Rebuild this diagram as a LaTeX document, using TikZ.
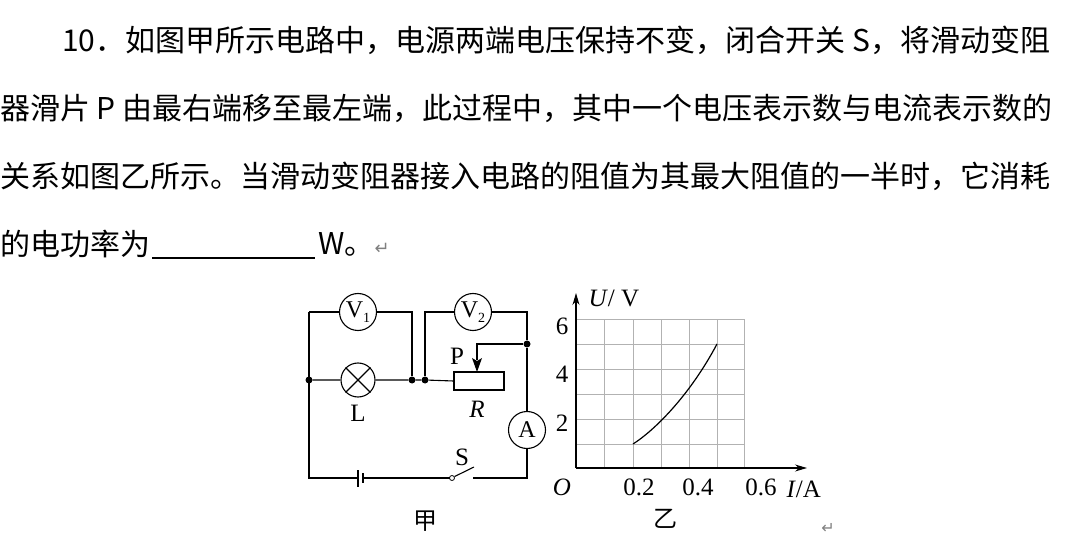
\documentclass[tikz,border=0pt]{standalone}
\usepackage{fontspec}
\usetikzlibrary{arrows.meta}
\setmainfont{Liberation Serif}
\newfontfamily\cjk{Noto Sans CJK SC}
\newfontfamily\djsym{DejaVu Sans}
\begin{document}
\begin{tikzpicture}[x=1pt,y=-1pt,
 wire/.style={line width=1.1pt},
 meter/.style={circle,draw,line width=1.1pt,fill=white,minimum size=37pt,inner sep=0pt,font=\fontsize{24}{24}\selectfont},
 dot/.style={circle,fill,inner sep=0pt,minimum size=7pt},
 lab/.style={font=\fontsize{25}{25}\selectfont},
 txt/.style={anchor=west,inner sep=0pt,font=\cjk\fontsize{30}{30}\selectfont},
 grid/.style={draw=gray!60,line width=0.8pt}]
\useasboundingbox (0,0) rectangle (1080,540);
% text
\node[txt] (t1) at (62,40) {10．如图甲所示电路中，电源两端电压保持不变，闭合开关 S，将滑动变阻};
\node[txt] (t2) at (0,108) {器滑片 P 由最右端移至最左端，此过程中，其中一个电压表示数与电流表示数的};
\node[txt] (t3) at (0,176) {关系如图乙所示。当滑动变阻器接入电路的阻值为其最大阻值的一半时，它消耗};
\node[txt] (t4) at (0,244) {的电功率为};
\coordinate (u1) at (152,258); \coordinate (u2) at (315,258);
\draw[line width=1.5pt] (u1) -- (u2);
\node[txt] (t5) at (318,244) {W。{\djsym\color{gray}\fontsize{18}{18}\selectfont ↵}};
% circuit
\coordinate (TL) at (309,312); \coordinate (BL) at (309,478);
\coordinate (BR) at (527,478); \coordinate (TR) at (527,312);
\node[dot] (jl) at (309,380) {}; \node[dot] (j1) at (412,380) {};
\node[dot] (j2) at (425,380) {}; \node[dot] (jr) at (527,344) {};
\node[circle,draw,line width=1.1pt,minimum size=34pt,inner sep=0pt,fill=white] (L) at (358,380) {};
\draw[line width=1.1pt] (L.45) -- (L.225) (L.135) -- (L.315);
\node[draw,line width=1.1pt,minimum width=50pt,minimum height=18pt,inner sep=0pt] (R) at (479,381) {};
\draw[wire] (TL) -- (BL) -- (358,478);
\draw[wire] (363,478) -- (450,478);
\node[circle,draw,inner sep=0pt,minimum size=5pt,line width=0.8pt] (sw) at (452,478) {};
\coordinate (swe) at (474,467);
\draw[wire] (sw.30) -- (swe);
\draw[wire] (473,478) -- (BR) -- (jr) -- (TR) -- (425,312) -- (j2);
\draw[wire] (TL) -- (412,312) -- (j1);
\draw[wire] (jl) -- (L) -- (j1) -- (j2) -- (R.west);
\coordinate (ps) at (477,344);
\draw[wire] (jr) -- (ps) -- (477,360);
\fill (477,372) -- (472,358) -- (477,361) -- (482,358) -- cycle;
\draw[line width=1.2pt] (358,470) -- (358,487);
\draw[line width=2.4pt] (363,473) -- (363,483);
\node[meter] (V1) at (358,312) {V\raisebox{-5pt}{\fontsize{14}{14}\selectfont 1}};
\node[meter] (V2) at (473,312) {V\raisebox{-5pt}{\fontsize{14}{14}\selectfont 2}};
\node[meter] (A) at (527,430) {A};
\node[lab] (Lt) at (358,413) {L};
\node[lab] (Pt) at (457,356) {P};
\node[lab] (Rt) at (477,409) {\textit{R}};
\node[lab] (St) at (462,457) {S};
\node[font=\cjk\fontsize{24}{24}\selectfont] (jia) at (425,521) {甲};
% graph
\foreach \x in {604,633,661,689,717,744} \draw[grid] (\x,468) -- (\x,319);
\foreach \y in {319,344,369,394,419,444} \draw[grid] (576,\y) -- (744,\y);
\coordinate (O) at (576,468);
\coordinate (xe) at (807,468); \coordinate (ye) at (576,293);
\draw[line width=1.1pt,-{Stealth[length=12pt,width=7pt]}] (O) -- (xe);
\draw[line width=1.1pt,-{Stealth[length=12pt,width=7pt]}] (O) -- (ye);
\draw[line width=1.2pt] (633,444) .. controls (655,430) and (690,395) .. (717,344);
\node[lab,anchor=west] (u) at (585,298) {\textit{U}/ V};
\node[lab] (y6) at (562,326) {6};
\node[lab] (y4) at (562,374) {4};
\node[lab] (y2) at (562,423) {2};
\node[lab] (o) at (562,487) {\textit{O}};
\node[lab] (x2) at (639,487) {0.2};
\node[lab] (x4) at (698,487) {0.4};
\node[lab] (x6) at (761,487) {0.6};
\node[lab,anchor=west] (ia) at (783,489) {\textit{I}/A};
\node[font=\cjk\fontsize{24}{24}\selectfont] (yi) at (665,519) {乙};
\node[font=\djsym\fontsize{16}{16}\selectfont,text=gray] (ret) at (828,528) {↵};
\end{tikzpicture}
\end{document}
